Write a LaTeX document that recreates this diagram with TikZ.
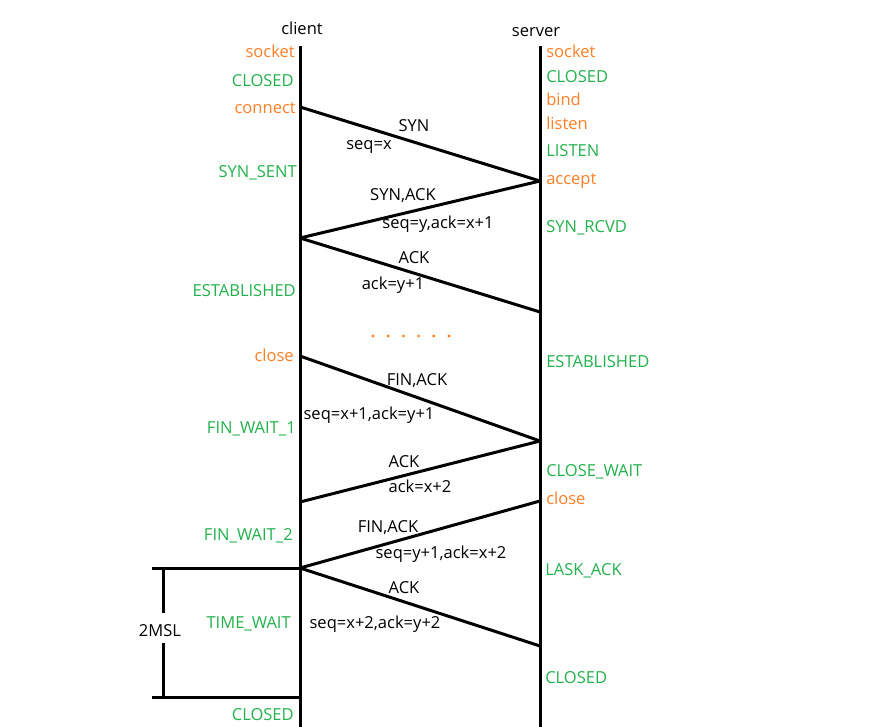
\documentclass[tikz,border=0pt]{standalone}
\usepackage{fontspec}
\setmainfont{Open Sans}
\definecolor{callc}{HTML}{FF7F27}
\definecolor{statec}{HTML}{22B14C}
\begin{document}
\begin{tikzpicture}[x=0.75pt,y=-0.75pt,
  every node/.style={inner sep=0pt,font=\fontsize{12.4pt}{14pt}\selectfont},
  life/.style={line width=2.25pt},
  msgline/.style={line width=2.25pt},
  call/.style={text=callc},
  state/.style={text=statec},
  msg/.style={text=black,anchor=base},
  cl/.style={anchor=base east},
  sl/.style={anchor=base west}]
\useasboundingbox (0,0) rectangle (889,727);

% lifelines
\node[anchor=base] (client) at (302,35) {client};
\node[anchor=base] (server) at (536,37) {server};
\coordinate (ctop) at (300,46);
\coordinate (cbot) at (300,727);
\coordinate (stop) at (540,46);
\coordinate (sbot) at (540,727);
\draw[life] (ctop) -- (cbot);
\draw[life] (stop) -- (sbot);

% client side
\node[cl,call]  (c1) at (295,58)  {socket};
\node[cl,state] (c2) at (294,87)  {CLOSED};
\node[cl,call]  (c3) at (296,114) {connect};
\node[cl,state] (c4) at (297,178) {SYN\_SENT};
\node[cl,state] (c5) at (296,297) {ESTABLISHED};
\node[cl,call]  (c6) at (294,361) {close};
\node[cl,state] (c7) at (296,433) {FIN\_WAIT\_1};
\node[cl,state] (c8) at (293,540) {FIN\_WAIT\_2};
\node[cl,state] (c9) at (291,628) {TIME\_WAIT};
\node[cl,state] (c10) at (294,720) {CLOSED};

% server side
\node[sl,call]  (s1) at (546,58)  {socket};
\node[sl,state] (s2) at (546,83)  {CLOSED};
\node[sl,call]  (s3) at (546,106) {bind};
\node[sl,call]  (s4) at (546,130) {listen};
\node[sl,state] (s5) at (546,157) {LISTEN};
\node[sl,call]  (s6) at (546,185) {accept};
\node[sl,state] (s7) at (546,233) {SYN\_RCVD};
\node[sl,state] (s8) at (546,368) {ESTABLISHED};
\node[sl,state] (s9) at (546,476) {CLOSE\_WAIT};
\node[sl,call]  (s10) at (546,504) {close};
\node[sl,state] (s11) at (545,575) {LASK\_ACK};
\node[sl,state] (s12) at (545,683) {CLOSED};

% points on the lifelines
\coordinate (p1) at (300,107);
\coordinate (q1) at (540,181);
\coordinate (p2) at (300,238);
\coordinate (q2) at (540,312);
\coordinate (p3) at (300,356);
\coordinate (q3) at (540,441);
\coordinate (p4) at (300,502);
\coordinate (q4) at (540,501);
\coordinate (p5) at (300,568);
\coordinate (q5) at (540,646);

% segments
\draw[msgline] (p1) -- (q1);
\draw[msgline] (q1) -- (p2);
\draw[msgline] (p2) -- (q2);
\draw[msgline] (p3) -- (q3);
\draw[msgline] (q3) -- (p4);
\draw[msgline] (q4) -- (p5);
\draw[msgline] (p5) -- (q5);

% segment labels
\node[msg] (m1a) at (414,132) {SYN};
\node[msg] (m1b) at (369,150) {seq=x};
\node[msg] (m2a) at (403,201) {SYN,ACK};
\node[msg] (m2b) at (438,229) {seq=y,ack=x+1};
\node[msg] (m3a) at (414,264) {ACK};
\node[msg] (m3b) at (393,290) {ack=y+1};
\node[msg] (m4a) at (417,385) {FIN,ACK};
\node[msg] (m4b) at (369,419) {seq=x+1,ack=y+1};
\node[msg] (m5a) at (404,467) {ACK};
\node[msg] (m5b) at (420,492) {ack=x+2};
\node[msg] (m6a) at (388,532) {FIN,ACK};
\node[msg] (m6b) at (441,558) {seq=y+1,ack=x+2};
\node[msg] (m7a) at (404,593) {ACK};
\node[msg] (m7b) at (375,628) {seq=x+2,ack=y+2};

% data transfer dots
\foreach \i in {0,...,5}
  \fill[callc] (373+15.2*\i,336) circle (1.6);

% 2MSL bracket
\coordinate (t1) at (152,568);
\coordinate (t2) at (152,697);
\coordinate (t2c) at (300,697);
\coordinate (b1) at (163,568);
\coordinate (b2) at (163,613);
\coordinate (b3) at (163,643);
\coordinate (b4) at (163,697);
\draw[life] (t1) -- (p5);
\draw[life] (t2) -- (t2c);
\node[msg] (msl) at (160,636) {2MSL};
\draw[life] (b1) -- (b2);
\draw[life] (b3) -- (b4);
\end{tikzpicture}
\end{document}
